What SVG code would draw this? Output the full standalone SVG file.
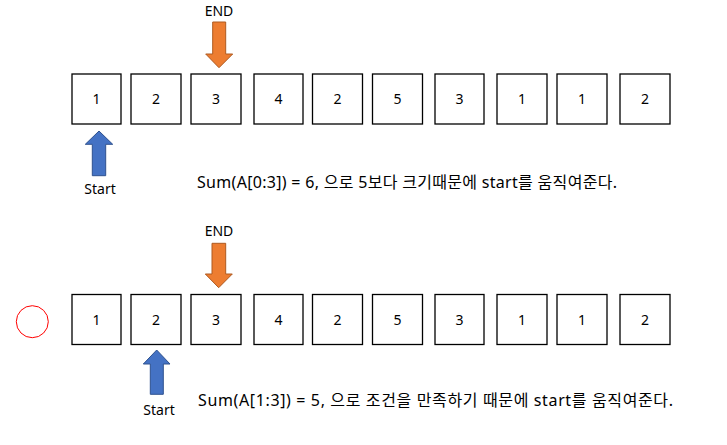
<svg xmlns="http://www.w3.org/2000/svg" width="727" height="445" viewBox="0 0 727 445">
<style>
text{font-family:"Noto Sans","Noto Sans CJK KR",sans-serif;font-size:14px;fill:#000}
.num{text-anchor:middle}
.note{font-size:16px}
.box{fill:#fff;stroke:#000;stroke-width:1.3}
.blue{fill:#4472C4;stroke:#2F528F;stroke-width:1}
.orange{fill:#ED7D31;stroke:#AE5A21;stroke-width:1}
</style>
<rect width="727" height="445" fill="#fff"/>
<g id="row1">
<g id="r1b0"><rect class="box" x="72" y="74" width="49" height="50"/><text class="num" x="96.5" y="104">1</text></g>
<g id="r1b1"><rect class="box" x="131" y="74" width="50" height="50"/><text class="num" x="156" y="104">2</text></g>
<g id="r1b2"><rect class="box" x="191" y="74" width="50" height="50"/><text class="num" x="216" y="104">3</text></g>
<g id="r1b3"><rect class="box" x="254" y="74" width="49" height="50"/><text class="num" x="278.5" y="104">4</text></g>
<g id="r1b4"><rect class="box" x="312.5" y="74" width="50" height="50"/><text class="num" x="337.5" y="104">2</text></g>
<g id="r1b5"><rect class="box" x="372.5" y="74" width="50" height="50"/><text class="num" x="397.5" y="104">5</text></g>
<g id="r1b6"><rect class="box" x="435" y="74" width="49" height="50"/><text class="num" x="459.5" y="104">3</text></g>
<g id="r1b7"><rect class="box" x="497" y="74" width="50" height="50"/><text class="num" x="522" y="104">1</text></g>
<g id="r1b8"><rect class="box" x="557" y="74" width="50" height="50"/><text class="num" x="582" y="104">1</text></g>
<g id="r1b9"><rect class="box" x="620" y="74" width="50" height="50"/><text class="num" x="645" y="104">2</text></g>
</g>
<g id="row2">
<g id="r2b0"><rect class="box" x="72" y="294.5" width="49" height="50"/><text class="num" x="96.5" y="324.5">1</text></g>
<g id="r2b1"><rect class="box" x="131" y="294.5" width="50" height="50"/><text class="num" x="156" y="324.5">2</text></g>
<g id="r2b2"><rect class="box" x="191" y="294.5" width="50" height="50"/><text class="num" x="216" y="324.5">3</text></g>
<g id="r2b3"><rect class="box" x="254" y="294.5" width="49" height="50"/><text class="num" x="278.5" y="324.5">4</text></g>
<g id="r2b4"><rect class="box" x="312.5" y="294.5" width="50" height="50"/><text class="num" x="337.5" y="324.5">2</text></g>
<g id="r2b5"><rect class="box" x="372.5" y="294.5" width="50" height="50"/><text class="num" x="397.5" y="324.5">5</text></g>
<g id="r2b6"><rect class="box" x="435" y="294.5" width="49" height="50"/><text class="num" x="459.5" y="324.5">3</text></g>
<g id="r2b7"><rect class="box" x="497" y="294.5" width="50" height="50"/><text class="num" x="522" y="324.5">1</text></g>
<g id="r2b8"><rect class="box" x="557" y="294.5" width="50" height="50"/><text class="num" x="582" y="324.5">1</text></g>
<g id="r2b9"><rect class="box" x="620" y="294.5" width="50" height="50"/><text class="num" x="645" y="324.5">2</text></g>
</g>
<g id="circle"><circle cx="32.3" cy="321.7" r="16" fill="none" stroke="#FF0000" stroke-width="1"/></g>
<g id="connectors">
<g id="end1"><text class="num" x="219" y="15.5">END</text><polygon class="orange" points="212.7,22 225.7,22 225.7,54 232.7,54 219,67.7 205.7,54 212.7,54"/></g>
<g id="start1"><polygon class="blue" points="99,131 112.7,144.3 105.7,144.3 105.7,175.7 92.3,175.7 92.3,144.3 85.3,144.3"/><text class="num" x="100" y="194">Start</text></g>
<g id="end2"><text class="num" x="219" y="236">END</text><polygon class="orange" points="212,243.3 225.7,243.3 225.7,274 232.3,274 218.7,287.7 205.3,274 212,274"/></g>
<g id="start2"><polygon class="blue" points="156.7,350 170,364 163.3,364 163.3,394.3 150.3,394.3 150.3,364 143.3,364"/><text class="num" x="159" y="415">Start</text></g>
</g>
<g id="notes">
<text class="note" x="197" y="188" textLength="420" lengthAdjust="spacing">Sum(A[0:3]) = 6, 으로 5보다 크기때문에 start를 움직여준다.</text>
<text class="note" x="198" y="406" textLength="475" lengthAdjust="spacing">Sum(A[1:3]) = 5, 으로 조건을 만족하기 때문에 start를 움직여준다.</text>
</g>
</svg>
